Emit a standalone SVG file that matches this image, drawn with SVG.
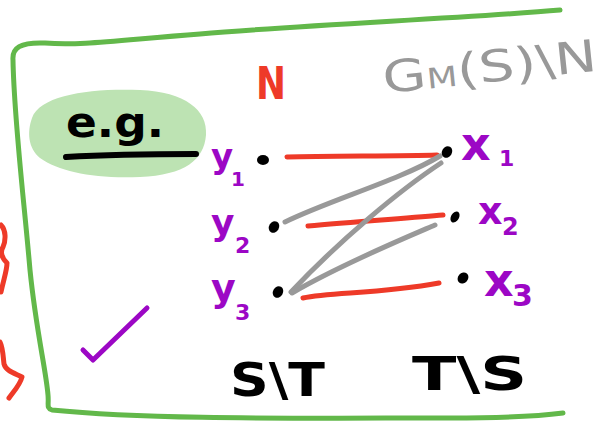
<svg xmlns="http://www.w3.org/2000/svg" width="605" height="435" viewBox="0 0 605 435">
  <style>
    .pen { fill: none; stroke-linecap: round; stroke-linejoin: round; }
    .frame { stroke: #62b84a; stroke-width: 5; }
    .red { stroke: #ee3a28; stroke-width: 5; }
    .gray { stroke: #999999; stroke-width: 5; }
    .dot { fill: #000000; }
    .hand { font-family: "DejaVu Sans", "Liberation Sans", sans-serif; font-weight: bold; }
    .thin { font-weight: normal; }
    .purple { fill: #9c07c5; }
    .ink { fill: #000000; }
  </style>

  <rect width="605" height="435" fill="#ffffff"/>

  <!-- outer frame -->
  <path class="pen frame" d="M560,10 C470,18 300,25 200,34 C120,40 80,46 45,43 C20,42 12,48 13,60 C14,120 24,200 30,270 C36,330 46,370 48,395 C49,405 46,408 52,410 C150,420 300,418 450,418 C500,418 540,416 563,413"/>

  <!-- marks cut off by the left edge -->
  <path class="pen red" d="M1,225 C6,230 6,240 3,247 C0,252 2,258 7,263 C7,270 4,278 1,292"/>
  <path class="pen red" d="M0,342 C3,348 3,356 4,364 C6,371 14,373 22,377 C20,385 14,391 9,398"/>

  <!-- "e.g." highlight -->
  <g id="eg">
    <path d="M32,118 C40,95 90,88 140,90 C185,92 208,110 206,135 C204,160 185,175 140,177 C95,179 60,172 40,158 C28,148 27,132 32,118 Z" fill="#bde3b3"/>
    <text class="hand ink" x="66" y="137" font-size="42" textLength="98" lengthAdjust="spacingAndGlyphs">e.g.</text>
    <path class="pen" d="M66,157 C100,155 160,154 196,154" stroke="#000000" stroke-width="6"/>
  </g>

  <!-- set labels -->
  <text id="label-N" class="hand" x="256" y="99" font-size="44" fill="#ee3a28" textLength="30" lengthAdjust="spacingAndGlyphs">N</text>
  <text id="label-GMS" class="hand thin" x="382" y="82" font-size="44" fill="#999999" textLength="215" lengthAdjust="spacingAndGlyphs" transform="rotate(-6 490 65)">G<tspan font-size="28">M</tspan>(S)\N</text>

  <!-- connectors -->
  <g id="connectors">
    <path class="pen red" d="M287,157 C330,156 400,156 437,155"/>
    <path class="pen red" d="M308,226 C350,222 410,218 443,215"/>
    <path class="pen red" d="M303,298 C330,292 380,294 439,283"/>
    <path class="pen gray" d="M285,222 C330,200 400,180 440,156"/>
    <path class="pen gray" d="M291,292 C340,240 400,190 441,163"/>
    <path class="pen gray" d="M292,293 C340,265 400,240 435,225"/>
  </g>

  <!-- left vertices -->
  <g id="y1">
    <ellipse class="dot" cx="263" cy="160" rx="6" ry="5"/>
    <text class="hand purple" x="211" y="168" font-size="34">y</text>
    <text class="hand purple" x="231" y="186" font-size="20">1</text>
  </g>
  <g id="y2">
    <ellipse class="dot" cx="274" cy="227" rx="5" ry="6" transform="rotate(30 274 227)"/>
    <text class="hand purple" x="211" y="235" font-size="36">y</text>
    <text class="hand purple" x="235" y="253" font-size="22">2</text>
  </g>
  <g id="y3">
    <ellipse class="dot" cx="278" cy="292" rx="5" ry="6" transform="rotate(30 278 292)"/>
    <text class="hand purple" x="211" y="301" font-size="38">y</text>
    <text class="hand purple" x="235" y="320" font-size="22">3</text>
  </g>

  <!-- right vertices -->
  <g id="x1">
    <ellipse class="dot" cx="447" cy="152" rx="5" ry="6" transform="rotate(30 447 152)"/>
    <text class="hand purple" x="461" y="160" font-size="46">x</text>
    <text class="hand purple" x="499" y="166" font-size="22">1</text>
  </g>
  <g id="x2">
    <ellipse class="dot" cx="455" cy="217" rx="4" ry="6" transform="rotate(30 455 217)"/>
    <text class="hand purple" x="478" y="224" font-size="38">x</text>
    <text class="hand purple" x="502" y="235" font-size="24">2</text>
  </g>
  <g id="x3">
    <ellipse class="dot" cx="463" cy="278" rx="5" ry="6" transform="rotate(40 463 278)"/>
    <text class="hand purple" x="484" y="296" font-size="46">x</text>
    <text class="hand purple" x="512" y="306" font-size="30">3</text>
  </g>

  <!-- check mark -->
  <path class="pen" d="M83,350 L93,360 L147,308" stroke="#9c07c5" stroke-width="5"/>

  <!-- side labels -->
  <text id="label-S-T" class="hand ink" x="230" y="396" font-size="46" textLength="95" lengthAdjust="spacingAndGlyphs">S\T</text>
  <text id="label-T-S" class="hand ink" x="412" y="390" font-size="46" textLength="115" lengthAdjust="spacingAndGlyphs">T\S</text>
</svg>
